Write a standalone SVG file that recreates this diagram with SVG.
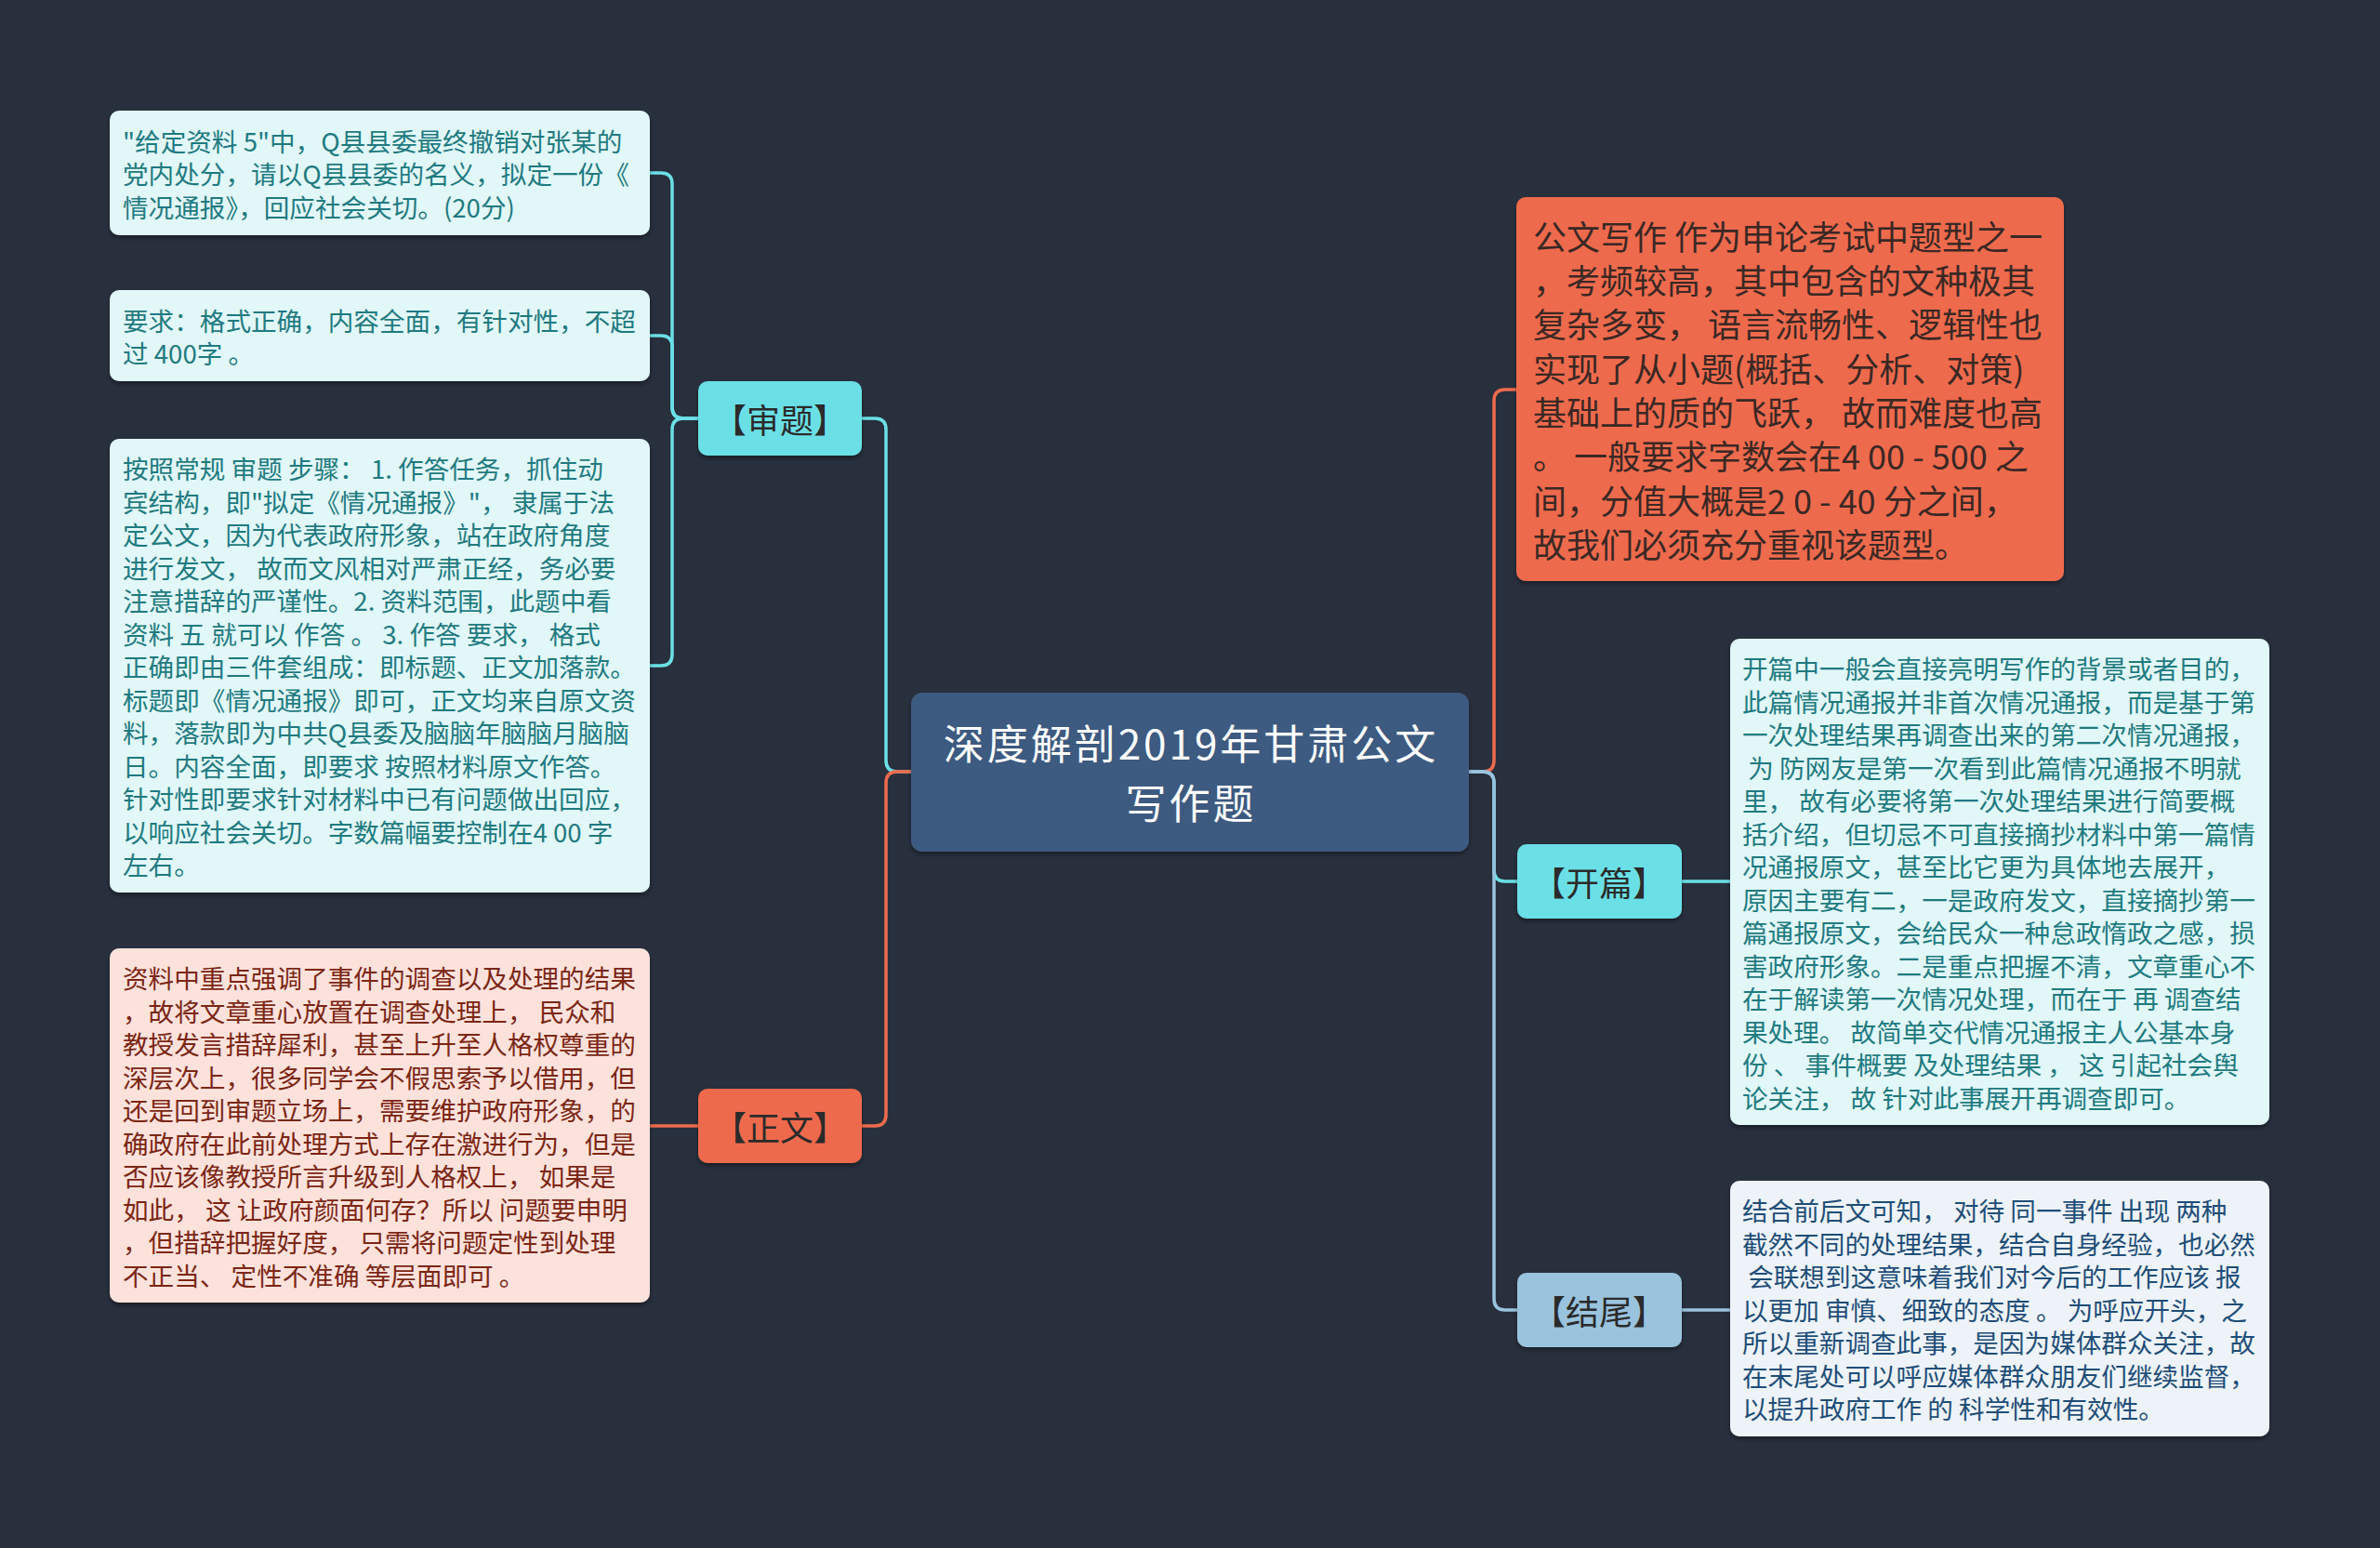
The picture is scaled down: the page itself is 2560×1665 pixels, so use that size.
<svg xmlns="http://www.w3.org/2000/svg" width="2560" height="1665" viewBox="0 0 2560 1665">
<defs>
<filter id="sh" x="-5%" y="-5%" width="110%" height="115%">
<feDropShadow dx="0" dy="3" stdDeviation="2" flood-color="#000" flood-opacity="0.35"/>
</filter>
<style>
text{font-family:"Noto Sans CJK SC","Noto Sans",sans-serif;white-space:pre;}
.conn path{fill:none;stroke-width:3.5;stroke-linecap:round;}
.cy{stroke:#6be0e6;}
.or{stroke:#ee6b4d;}
.lb{stroke:#9ac3de;}
.box{filter:url(#sh);}
.central rect{fill:#3d5a80;}
.central text{fill:#ffffff;font-size:44px;letter-spacing:3px;text-anchor:middle;dominant-baseline:central;}
.br text{font-size:36px;text-anchor:middle;dominant-baseline:central;fill:#2b2b2b;}
.fcy{fill:#6be0e6;}
.for{fill:#ee6b4d;}
.flb{fill:#9ac3de;}
.leaf text{font-size:27.6px;dominant-baseline:central;}
.lc rect{fill:#e1f7f8;}
.lc text{fill:#1f7a80;}
.lp rect{fill:#fde2dc;}
.lp text{fill:#7b2614;}
.lw rect{fill:#edf3f8;}
.lw text{fill:#1f4d77;}
.big rect{fill:#ee6b4d;}
.big text{font-size:36px;dominant-baseline:central;fill:#3a2824;}
</style>
</defs>
<rect x="0" y="0" width="2560" height="1665" fill="#282f3d"/>

<g id="connectors" class="conn">
<path class="cy" d="M980 830 H965 Q953 830 953 818 V462 Q953 450 941 450 H927"/>
<path class="or" d="M980 830 H965 Q953 830 953 842 V1199 Q953 1211 941 1211 H927"/>
<path class="cy" d="M751 450 H735 Q723 450 723 438 V198 Q723 186 711 186 H699"/>
<path class="cy" d="M751 450 H735 Q723 450 723 438 V373 Q723 361 711 361 H699"/>
<path class="cy" d="M751 450 H735 Q723 450 723 462 V704 Q723 716 711 716 H699"/>
<path class="or" d="M751 1211 H699"/>
<path class="or" d="M1580 830 H1595 Q1607 830 1607 818 V431 Q1607 419 1619 419 H1632"/>
<path class="cy" d="M1580 830 H1595 Q1607 830 1607 842 V936 Q1607 948 1619 948 H1632"/>
<path class="lb" d="M1580 830 H1595 Q1607 830 1607 842 V1397 Q1607 1409 1619 1409 H1632"/>
<path class="cy" d="M1809 948 H1861"/>
<path class="lb" d="M1809 1409 H1861"/>
</g>

<g id="central" class="central">
<rect class="box" x="980" y="745" width="600" height="171" rx="12"/>
<text><tspan x="1281" y="798">深度解剖2019年甘肃公文</tspan><tspan x="1281" y="862">写作题</tspan></text>
</g>

<g id="shenti" class="br">
<rect class="box fcy" x="751" y="410" width="176" height="80" rx="10"/>
<text x="839" y="450">【审题】</text>
</g>

<g id="zhengwen" class="br">
<rect class="box for" x="751" y="1171" width="176" height="80" rx="10"/>
<text x="839" y="1211">【正文】</text>
</g>

<g id="kaipian" class="br">
<rect class="box fcy" x="1632" y="908" width="177" height="80" rx="10"/>
<text x="1720" y="948">【开篇】</text>
</g>

<g id="jiewei" class="br">
<rect class="box flb" x="1632" y="1369" width="177" height="80" rx="10"/>
<text x="1720" y="1409">【结尾】</text>
</g>

<g id="intro" class="big">
<rect class="box" x="1631" y="212" width="589" height="413" rx="10"/>
<text x="1649" y="253">公文写作 作为申论考试中题型之一</text>
<text x="1649" y="300">，考频较高，其中包含的文种极其</text>
<text x="1649" y="347">复杂多变， 语言流畅性、逻辑性也</text>
<text x="1649" y="395">实现了从小题(概括、分析、对策)</text>
<text x="1649" y="442">基础上的质的飞跃， 故而难度也高</text>
<text x="1649" y="489">。 一般要求字数会在4 00 - 500 之</text>
<text x="1649" y="537">间，分值大概是2 0 - 40 分之间，</text>
<text x="1649" y="584">故我们必须充分重视该题型。</text>
</g>

<g id="leaf1" class="leaf lc">
<rect class="box" x="118" y="119" width="581" height="134" rx="10"/>
<text x="132" y="150.5">"给定资料 5"中，Q县县委最终撤销对张某的</text>
<text x="132" y="186">党内处分，请以Q县县委的名义，拟定一份《</text>
<text x="132" y="221.5">情况通报》，回应社会关切。(20分)</text>
</g>

<g id="leaf2" class="leaf lc">
<rect class="box" x="118" y="312" width="581" height="98" rx="10"/>
<text x="132" y="343.5">要求：格式正确，内容全面，有针对性，不超</text>
<text x="132" y="379">过 400字 。</text>
</g>

<g id="leaf3" class="leaf lc">
<rect class="box" x="118" y="472" width="581" height="488" rx="10"/>
<text x="132" y="503">按照常规 审题 步骤： 1. 作答任务，抓住动</text>
<text x="132" y="538.5">宾结构，即"拟定《情况通报》"， 隶属于法</text>
<text x="132" y="574">定公文，因为代表政府形象，站在政府角度</text>
<text x="132" y="609.5">进行发文， 故而文风相对严肃正经，务必要</text>
<text x="132" y="645">注意措辞的严谨性。2. 资料范围，此题中看</text>
<text x="132" y="680.5">资料 五 就可以 作答 。 3. 作答 要求， 格式</text>
<text x="132" y="716">正确即由三件套组成：即标题、正文加落款。</text>
<text x="132" y="751.5">标题即《情况通报》即可，正文均来自原文资</text>
<text x="132" y="787">料，落款即为中共Q县委及脑脑年脑脑月脑脑</text>
<text x="132" y="822.5">日。内容全面，即要求 按照材料原文作答。</text>
<text x="132" y="858">针对性即要求针对材料中已有问题做出回应，</text>
<text x="132" y="893.5">以响应社会关切。字数篇幅要控制在4 00 字</text>
<text x="132" y="929">左右。</text>
</g>

<g id="leaf4" class="leaf lp">
<rect class="box" x="118" y="1020" width="581" height="381" rx="10"/>
<text x="132" y="1051">资料中重点强调了事件的调查以及处理的结果</text>
<text x="132" y="1086.5">，故将文章重心放置在调查处理上， 民众和</text>
<text x="132" y="1122">教授发言措辞犀利，甚至上升至人格权尊重的</text>
<text x="132" y="1157.5">深层次上，很多同学会不假思索予以借用，但</text>
<text x="132" y="1193">还是回到审题立场上，需要维护政府形象，的</text>
<text x="132" y="1228.5">确政府在此前处理方式上存在激进行为，但是</text>
<text x="132" y="1264">否应该像教授所言升级到人格权上， 如果是</text>
<text x="132" y="1299.5">如此， 这 让政府颜面何存？所以 问题要申明</text>
<text x="132" y="1335">，但措辞把握好度， 只需将问题定性到处理</text>
<text x="132" y="1370.5">不正当、 定性不准确 等层面即可 。</text>
</g>

<g id="leaf5" class="leaf lc">
<rect class="box" x="1861" y="687" width="580" height="523" rx="10"/>
<text x="1874" y="718">开篇中一般会直接亮明写作的背景或者目的，</text>
<text x="1874" y="753.5">此篇情况通报并非首次情况通报，而是基于第</text>
<text x="1874" y="789">一次处理结果再调查出来的第二次情况通报，</text>
<text x="1874" y="824.5"> 为 防网友是第一次看到此篇情况通报不明就</text>
<text x="1874" y="860">里， 故有必要将第一次处理结果进行简要概</text>
<text x="1874" y="895.5">括介绍，但切忌不可直接摘抄材料中第一篇情</text>
<text x="1874" y="931">况通报原文，甚至比它更为具体地去展开，</text>
<text x="1874" y="966.5">原因主要有二，一是政府发文，直接摘抄第一</text>
<text x="1874" y="1002">篇通报原文，会给民众一种怠政惰政之感，损</text>
<text x="1874" y="1037.5">害政府形象。二是重点把握不清，文章重心不</text>
<text x="1874" y="1073">在于解读第一次情况处理，而在于 再 调查结</text>
<text x="1874" y="1108.5">果处理。 故简单交代情况通报主人公基本身</text>
<text x="1874" y="1144">份 、 事件概要 及处理结果 ， 这 引起社会舆</text>
<text x="1874" y="1179.5">论关注， 故 针对此事展开再调查即可。</text>
</g>

<g id="leaf6" class="leaf lw">
<rect class="box" x="1861" y="1270" width="580" height="275" rx="10"/>
<text x="1874" y="1301">结合前后文可知， 对待 同一事件 出现 两种</text>
<text x="1874" y="1336.5">截然不同的处理结果，结合自身经验，也必然</text>
<text x="1874" y="1372"> 会联想到这意味着我们对今后的工作应该 报</text>
<text x="1874" y="1407.5">以更加 审慎、细致的态度 。 为呼应开头，之</text>
<text x="1874" y="1443">所以重新调查此事，是因为媒体群众关注，故</text>
<text x="1874" y="1478.5">在末尾处可以呼应媒体群众朋友们继续监督，</text>
<text x="1874" y="1514">以提升政府工作 的 科学性和有效性。</text>
</g>
</svg>
